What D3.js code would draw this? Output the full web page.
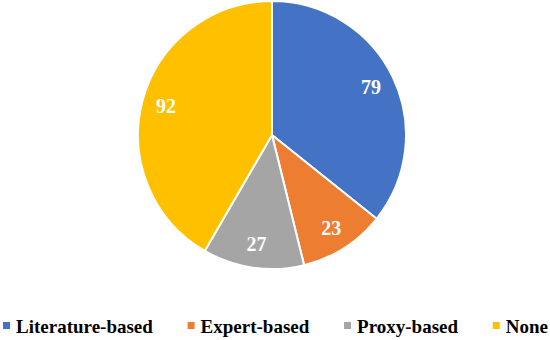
<!DOCTYPE html>
<html>
<head>
<meta charset="utf-8">
<script src="https://cdn.jsdelivr.net/npm/d3@7"></script>
<style>
  body { margin: 0; background: #fff; }
  svg { display: block; }
  text { font-family: "Liberation Serif", "Times New Roman", serif; font-weight: bold; }
</style>
</head>
<body>
<div class="chart"></div>
<script>
let categories = ["Literature-based", "Expert-based", "Proxy-based", "None"];
let values = [79, 23, 27, 92];
let colors = ["#4472C4", "#ED7D31", "#A5A5A5", "#FFC000"];

let width = 550, height = 340;
let cx = 272, cy = 135, radius = 134;

let svg = d3.select(".chart")
  .append("svg")
    .attr("width", width)
    .attr("height", height);

let data = categories.map(function(c, i){
  return {name: c, value: values[i], color: colors[i]};
});

let pie = d3.pie().sort(null).value(function(d){ return d.value; });
let arc = d3.arc().innerRadius(0).outerRadius(radius);
let labelArc = d3.arc().innerRadius(radius * 0.82).outerRadius(radius * 0.82);

let g = svg.append("g")
  .attr("transform", "translate(" + cx + "," + cy + ")");

let slices = g.selectAll("g.slice").data(pie(data)).enter()
  .append("g").attr("class", "slice");

slices.append("path")
  .attr("d", arc)
  .attr("fill", function(d){ return d.data.color; })
  .attr("stroke", "#fff")
  .attr("stroke-width", 2);

slices.append("text")
  .attr("transform", function(d){ return "translate(" + labelArc.centroid(d) + ")"; })
  .attr("text-anchor", "middle")
  .attr("dominant-baseline", "central")
  .attr("fill", "#fff")
  .style("font-size", "20px")
  .text(function(d){ return d.data.value; });

// legend
let legend = svg.append("g").attr("class", "legend");
let items = legend.selectAll("g").data(data).enter().append("g");

items.append("rect")
  .attr("width", 7)
  .attr("height", 7)
  .attr("y", -11)
  .attr("fill", function(d){ return d.color; });

items.append("text")
  .attr("x", 13)
  .style("font-size", "19px")
  .attr("fill", "#000")
  .text(function(d){ return d.name; });

// spread items across the bottom
let widths = [];
items.each(function(){ widths.push(this.getBBox().width); });
let total = d3.sum(widths);
let gap = (548 - 3 - total) / (data.length - 1);
let xPos = 3;
items.attr("transform", function(d, i){
  let t = "translate(" + xPos + "," + 333 + ")";
  xPos += widths[i] + gap;
  return t;
});
</script>
</body>
</html>
